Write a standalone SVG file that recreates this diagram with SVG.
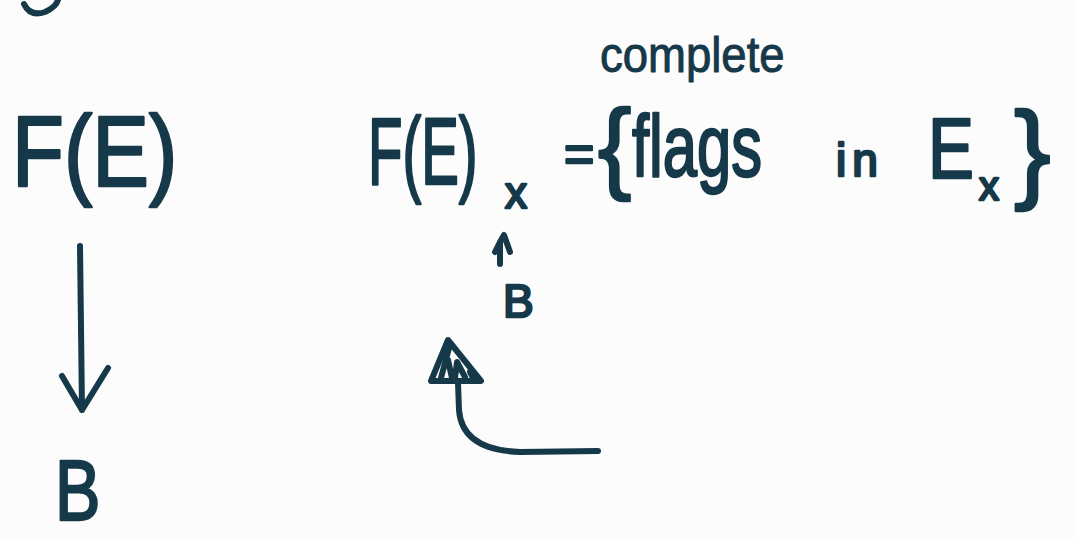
<svg xmlns="http://www.w3.org/2000/svg" width="1075" height="539" viewBox="0 0 1075 539">
<style>
.t{font-family:"Liberation Sans","DejaVu Sans",sans-serif;fill:#16394a;stroke:#16394a;stroke-width:2.5;stroke-linejoin:round}
.s{fill:none;stroke:#16394a;stroke-width:6;stroke-linecap:round;stroke-linejoin:round}
</style>
<rect width="1075" height="539" fill="#fcfcfc"/>
<g id="loop"><path class="s" d="M24 4 Q30 17 45 12 Q56 7 58 0"/></g>
<g id="FE-left" transform="translate(12,186) scale(0.85,1)"><text class="t" x="0" y="0" font-size="100">F(E)</text></g>
<g id="B-bottom" transform="translate(55,520) scale(0.8,1)"><text class="t" x="0" y="0" font-size="85">B</text></g>
<g id="FEx"><g transform="translate(368,184) scale(0.6,1)"><text class="t" x="0" y="0" font-size="94">F(E)</text></g><text class="t" x="505" y="208" font-size="44">x</text></g>
<g id="set"><text class="t" x="564" y="172" font-size="52">=</text>
<text class="t" x="598" y="180" font-size="100">{</text>
<g transform="translate(632,176) scale(0.7,1)"><text class="t" x="0" y="0" font-size="88">flags</text></g>
<text class="t" x="836" y="176" font-size="46" letter-spacing="6">in</text>
<g transform="translate(928,178) scale(0.8,1)"><text class="t" x="0" y="0" font-size="86">E</text></g>
<text class="t" x="979" y="200" font-size="40">x</text>
<text class="t" x="1014" y="188" font-size="110">}</text></g>
<g id="complete" transform="translate(600,72) scale(0.91,1)"><text class="t" x="0" y="0" font-size="50" style="stroke-width:1">complete</text></g>
<g id="Bsmall"><text class="t" x="503" y="317" font-size="46">B</text></g>
<g id="triangle"><path class="s" d="M431 381 L448 340 L481 381 Z"/><path class="s" d="M441 378 L449 348 M448 360 L452 378 M455 378 L457 362 L465 377 M470 372 L473 378"/></g>
<g id="connectors">
<path class="s" d="M80 246 L82 410 M62 376 L82 410 L108 368"/>
<path class="s" d="M500 264 L500 242 L504 235 L510 252 M500 242 L495 252"/>
<path class="s" d="M458 383 L459 410 Q462 450 520 452 L598 451"/>
</g>
</svg>
